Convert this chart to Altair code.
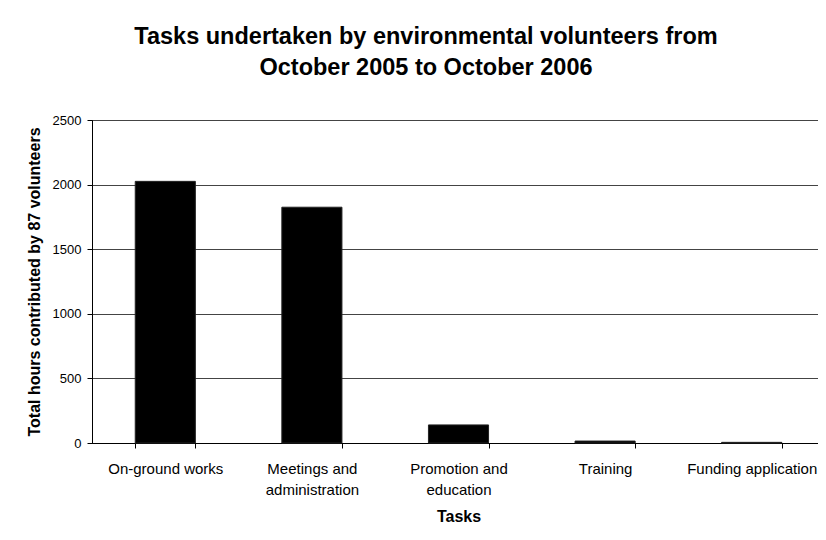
import altair as alt
import pandas as pd

tasks = ["On-ground works", "Meetings and\nadministration", "Promotion and\neducation", "Training", "Funding application"]
hours = [2025, 1825, 140, 15, 5]

df = pd.DataFrame({"task": tasks, "hours": hours})

FONT = "Liberation Sans"

chart = alt.Chart(df).mark_bar(color="#000000", stroke="#222222", strokeWidth=1).encode(
    x=alt.X("task:N", sort=tasks, title="Tasks",
            scale=alt.Scale(paddingInner=0.59, paddingOuter=0.295, range=[0, 733]),
            axis=alt.Axis(labelAngle=0, labelExpr="split(datum.label, '\\n')",
                          tickBand="extent", labelFontSize=15, labelColor="#000",
                          titleFontSize=16, titleFontWeight="bold", titleColor="#000",
                          domainColor="#000", tickColor="#000", labelPadding=13,
                          titlePadding=11, labelLineHeight=21, grid=False)),
    y=alt.Y("hours:Q", title="Total hours contributed by 87 volunteers",
            scale=alt.Scale(domain=[0, 2500]),
            axis=alt.Axis(values=[0, 500, 1000, 1500, 2000, 2500], format="d", labelFontSize=13,
                          labelColor="#000", titleFontSize=16, titleFontWeight="bold",
                          titleColor="#000", domainColor="#000", tickColor="#000",
                          gridColor="#444444", gridWidth=1, titlePadding=10, labelPadding=6)),
).properties(
    width=726, height=323,
    title=alt.TitleParams(["Tasks undertaken by environmental volunteers from",
                           "October 2005 to October 2006"],
                          fontSize=23.5, fontWeight="bold", font=FONT, color="#000",
                          anchor="middle", offset=35, lineHeight=31, dx=-29),
    autosize=alt.AutoSizeParams(type="none"),
    padding={"left": 84, "top": 112, "right": 0, "bottom": 80},
).configure(font=FONT).configure_view(stroke="#000", strokeWidth=1)

chart.save("out.html", embed_options={"renderer": "svg", "actions": False})
